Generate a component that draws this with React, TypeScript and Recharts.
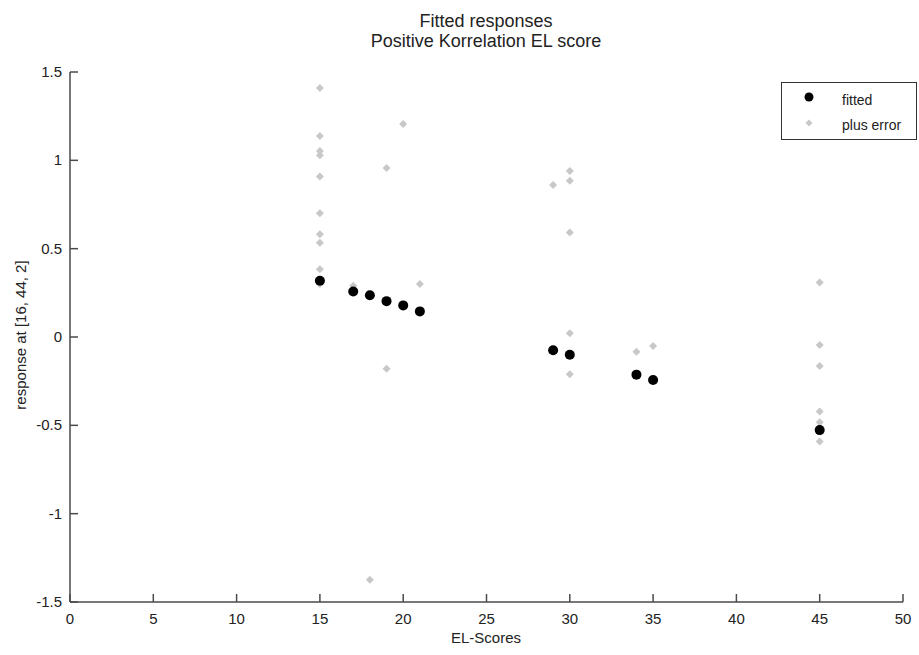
import { ScatterChart, Scatter, XAxis, YAxis } from 'recharts'

const FONT = '"Liberation Sans", Arial, sans-serif'
const AXIS = '#4a4a4a'
const TEXT = '#222'
const GRAY = '#c8c8c8'

// fitted responses per EL score
const fittedX = [15, 17, 18, 19, 20, 21, 29, 30, 34, 35, 45]
const fittedY = [0.318, 0.258, 0.236, 0.203, 0.179, 0.145, -0.075, -0.1, -0.213, -0.243, -0.527]

// fitted plus error
const errorX = [
  15, 15, 15, 15, 15, 15, 15, 15, 15, 15,
  17, 18, 19, 19, 20, 21, 29,
  30, 30, 30, 30, 30,
  34, 35,
  45, 45, 45, 45, 45, 45,
]
const errorY = [
  1.41, 1.138, 1.053, 1.029, 0.908, 0.701, 0.582, 0.533, 0.383, 0.3,
  0.29, -1.374, 0.957, -0.18, 1.206, 0.3, 0.861,
  0.94, 0.884, 0.592, 0.021, -0.211,
  -0.083, -0.051,
  0.309, -0.045, -0.164, -0.422, -0.482, -0.592,
]

const xTicks = [0, 5, 10, 15, 20, 25, 30, 35, 40, 45, 50]
const yTicks = [-1.5, -1, -0.5, 0, 0.5, 1, 1.5]

const fitted = fittedX.map((x, i) => ({ x, y: fittedY[i] }))
const withError = errorX.map((x, i) => ({ x, y: errorY[i] }))

function XTick(props: any) {
  const { x, y, payload } = props
  return (
    <g>
      <line x1={x} x2={x} y1={y} y2={y - 8} stroke={AXIS} strokeWidth={1.5} />
      <text x={x} y={y + 22} textAnchor="middle" fontSize={15} fill={TEXT} fontFamily={FONT}>
        {payload.value}
      </text>
    </g>
  )
}

function YTick(props: any) {
  const { x, y, payload } = props
  return (
    <g>
      <line x1={x} x2={x + 8} y1={y} y2={y} stroke={AXIS} strokeWidth={1.5} />
      <text x={x - 8} y={y + 5} textAnchor="end" fontSize={15} fill={TEXT} fontFamily={FONT}>
        {payload.value}
      </text>
    </g>
  )
}

const dot = (p: any) => <circle cx={p.cx} cy={p.cy} r={5} fill="#000" />
const diamond = (p: any) => (
  <polygon
    points={`${p.cx},${p.cy - 4} ${p.cx + 4},${p.cy} ${p.cx},${p.cy + 4} ${p.cx - 4},${p.cy}`}
    fill={GRAY}
  />
)

export default function App() {
  return (
    <div style={{ position: 'absolute', left: 0, top: 0, width: 919, height: 655, background: '#fff' }}>
      <ScatterChart width={919} height={655} margin={{ top: 72, right: 16, bottom: 23, left: 10 }}>
        <XAxis
          type="number"
          dataKey="x"
          domain={[0, 50]}
          ticks={xTicks}
          height={30}
          tickSize={0}
          tickMargin={0}
          tickLine={false}
          tick={<XTick />}
          axisLine={{ stroke: AXIS, strokeWidth: 1.5 }}
          interval={0}
        />
        <YAxis
          type="number"
          dataKey="y"
          domain={[-1.5, 1.5]}
          ticks={yTicks}
          width={60}
          tickSize={0}
          tickMargin={0}
          tickLine={false}
          tick={<YTick />}
          axisLine={{ stroke: AXIS, strokeWidth: 1.5 }}
          interval={0}
        />
        <Scatter name="plus error" data={withError} shape={diamond} isAnimationActive={false} />
        <Scatter name="fitted" data={fitted} shape={dot} isAnimationActive={false} />
      </ScatterChart>
      <svg
        width={919}
        height={655}
        style={{ position: 'absolute', left: 0, top: 0, pointerEvents: 'none' }}
        fontFamily={FONT}
      >
        <text x={486} y={27} textAnchor="middle" fontSize={18} fill={TEXT}>
          Fitted responses
        </text>
        <text x={486} y={47} textAnchor="middle" fontSize={18} fill={TEXT}>
          Positive Korrelation EL score
        </text>
        <text x={486} y={643} textAnchor="middle" fontSize={15} fill={TEXT}>
          EL-Scores
        </text>
        <text x={26} y={335} textAnchor="middle" fontSize={15} fill={TEXT} transform="rotate(-90, 26, 335)">
          response at [16, 44, 2]
        </text>
        <rect x={781.5} y={82.5} width={135} height={57} fill="#fff" stroke="#333" strokeWidth={1} />
        <circle cx={809} cy={97} r={4.5} fill="#000" />
        <polygon points="809,119.5 812.5,123 809,126.5 805.5,123" fill={GRAY} />
        <text x={842} y={105} fontSize={14} fill={TEXT}>
          fitted
        </text>
        <text x={842} y={130} fontSize={14} fill={TEXT}>
          plus error
        </text>
      </svg>
    </div>
  )
}
